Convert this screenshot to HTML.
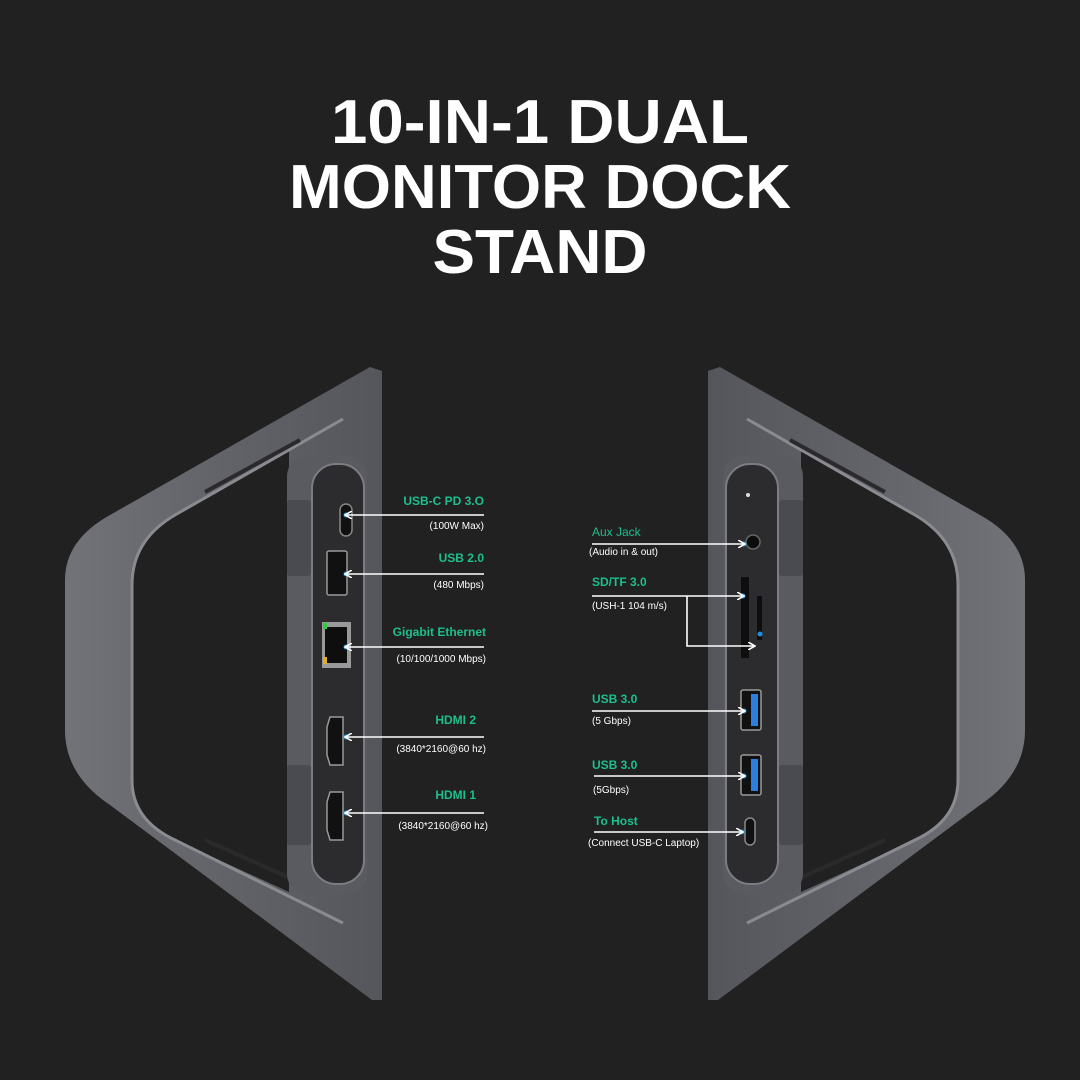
<!DOCTYPE html>
<html><head><meta charset="utf-8"><style>
html,body{margin:0;padding:0;background:#212121;}
svg{display:block}
.g{fill:#1dbf8c;font-family:"Liberation Sans",sans-serif;font-weight:bold;font-size:12px}
.w{fill:#fff;font-family:"Liberation Sans",sans-serif;font-size:10px}
</style></head><body>
<svg width="1080" height="1080" viewBox="0 0 1080 1080" xmlns="http://www.w3.org/2000/svg">
<defs>
<linearGradient id="arm" x1="0" y1="0" x2="1" y2="0">
<stop offset="0" stop-color="#727379"/><stop offset="0.5" stop-color="#626369"/><stop offset="1" stop-color="#55565c"/>
</linearGradient>
<marker id="ah" markerWidth="8" markerHeight="8" refX="6" refY="4" orient="auto" markerUnits="userSpaceOnUse">
<path d="M0,0 L7,4 L0,8" fill="none" stroke="#fff" stroke-width="1.6"/>
</marker>
<g id="stand">
<path fill-rule="evenodd" fill="url(#arm)" d="M370,367 L382,371 L382,1000 L372,1000 L110,805 Q65,775 65,730 L65,580 Q65,540 110,515 Z
M289,450 L175,515 Q132,540 132,585 L132,780 Q132,820 175,840 L289,892 Z"/>
<path d="M343,419 L175,515 Q132,540 132,585 L132,780 Q132,820 175,840 L343,923" fill="none" stroke="#8a8b90" stroke-width="3"/>
<path d="M300,440 L205,492" stroke="#2a2a2c" stroke-width="4"/>
<path d="M290,878 L205,840" stroke="#2a2a2c" stroke-width="4"/>
<rect x="287" y="456" width="80" height="438" rx="20" fill="#5a5b60"/>
<rect x="287" y="500" width="24" height="76" rx="3" fill="#4a4b50"/>
<rect x="287" y="765" width="24" height="80" rx="3" fill="#4a4b50"/>
<rect x="312" y="464" width="52" height="420" rx="24" fill="#2c2c2f" stroke="#7c7d82" stroke-width="2"/>
</g>
</defs>

<text x="540" y="143" text-anchor="middle" fill="#fff" font-family="Liberation Sans, sans-serif" font-weight="bold" font-size="62" textLength="418" lengthAdjust="spacingAndGlyphs">10-IN-1 DUAL</text>
<text x="540" y="208" text-anchor="middle" fill="#fff" font-family="Liberation Sans, sans-serif" font-weight="bold" font-size="62" textLength="502" lengthAdjust="spacingAndGlyphs">MONITOR DOCK</text>
<text x="540" y="273" text-anchor="middle" fill="#fff" font-family="Liberation Sans, sans-serif" font-weight="bold" font-size="62" textLength="215" lengthAdjust="spacingAndGlyphs">STAND</text>

<use href="#stand"/>
<use href="#stand" transform="translate(1090,0) scale(-1,1)"/>

<!-- left ports -->
<rect x="340" y="504" width="12" height="32" rx="6" fill="#111" stroke="#888" stroke-width="1.5"/>
<rect x="327" y="551" width="20" height="44" rx="2" fill="#111" stroke="#999" stroke-width="1.5"/>
<rect x="322" y="622" width="29" height="46" fill="#999"/>
<rect x="325" y="627" width="22" height="36" fill="#0e0e0e"/>
<rect x="323" y="623" width="4" height="6" fill="#2ecc40"/>
<rect x="323" y="657" width="4" height="7" fill="#e0b020"/>
<path d="M330,717 L343,717 L343,765 L330,765 L327,755 L327,727 Z" fill="#111" stroke="#999" stroke-width="1.5"/>
<path d="M330,792 L343,792 L343,840 L330,840 L327,830 L327,802 Z" fill="#111" stroke="#999" stroke-width="1.5"/>
<g fill="#1e90e0"><circle cx="346" cy="515" r="2.5"/><circle cx="346" cy="574" r="2.5"/><circle cx="346" cy="647" r="2.5"/><circle cx="346" cy="737" r="2.5"/><circle cx="346" cy="813" r="2.5"/></g>
<g stroke="#fff" stroke-width="1.6" marker-end="url(#ah)">
<line x1="484" y1="515" x2="346" y2="515"/><line x1="484" y1="574" x2="346" y2="574"/>
<line x1="484" y1="647" x2="346" y2="647"/><line x1="484" y1="737" x2="346" y2="737"/>
<line x1="484" y1="813" x2="346" y2="813"/>
</g>
<g text-anchor="end">
<text class="g" x="484" y="505">USB-C PD 3.O</text><text class="w" x="484" y="529">(100W Max)</text>
<text class="g" x="484" y="562">USB 2.0</text><text class="w" x="484" y="588">(480 Mbps)</text>
<text class="g" x="486" y="636">Gigabit Ethernet</text><text class="w" x="486" y="662">(10/100/1000 Mbps)</text>
<text class="g" x="476" y="724">HDMI 2</text><text class="w" x="486" y="752">(3840*2160@60 hz)</text>
<text class="g" x="476" y="799">HDMI 1</text><text class="w" x="488" y="829">(3840*2160@60 hz)</text>
</g>

<!-- right ports -->
<circle cx="748" cy="495" r="2" fill="#ddd"/>
<circle cx="753" cy="542" r="7" fill="#0c0c0c" stroke="#666" stroke-width="1.5"/>
<rect x="741" y="577" width="8" height="81" fill="#0e0e0e"/>
<rect x="757" y="596" width="5" height="44" fill="#0e0e0e"/>
<rect x="741" y="690" width="20" height="40" rx="2" fill="#111" stroke="#999" stroke-width="1.5"/>
<rect x="751" y="694" width="7" height="32" fill="#2a7fe0"/>
<rect x="741" y="755" width="20" height="40" rx="2" fill="#111" stroke="#999" stroke-width="1.5"/>
<rect x="751" y="759" width="7" height="32" fill="#2a7fe0"/>
<rect x="745" y="818" width="10" height="27" rx="5" fill="#111" stroke="#888" stroke-width="1.5"/>
<g fill="#1e90e0"><circle cx="744" cy="544" r="2.5"/><circle cx="743" cy="596" r="2.5"/><circle cx="760" cy="634" r="2.5"/><circle cx="744" cy="711" r="2.5"/><circle cx="744" cy="776" r="2.5"/><circle cx="742" cy="832" r="2.5"/></g>
<g stroke="#fff" stroke-width="1.6" fill="none">
<line x1="592" y1="544" x2="744" y2="544" marker-end="url(#ah)"/>
<line x1="592" y1="596" x2="743" y2="596" marker-end="url(#ah)"/>
<polyline points="687,596 687,646 754,646" marker-end="url(#ah)"/>
<line x1="592" y1="711" x2="744" y2="711" marker-end="url(#ah)"/>
<line x1="594" y1="776" x2="744" y2="776" marker-end="url(#ah)"/>
<line x1="594" y1="832" x2="742" y2="832" marker-end="url(#ah)"/>
</g>
<text class="g" x="592" y="536" style="font-weight:normal">Aux Jack</text><text class="w" x="589" y="555">(Audio in &amp; out)</text>
<text class="g" x="592" y="586">SD/TF 3.0</text><text class="w" x="592" y="609">(USH-1 104 m/s)</text>
<text class="g" x="592" y="703">USB 3.0</text><text class="w" x="592" y="724">(5 Gbps)</text>
<text class="g" x="592" y="769">USB 3.0</text><text class="w" x="593" y="793">(5Gbps)</text>
<text class="g" x="594" y="825">To Host</text><text class="w" x="588" y="846">(Connect USB-C Laptop)</text>
</svg>
</body></html>
